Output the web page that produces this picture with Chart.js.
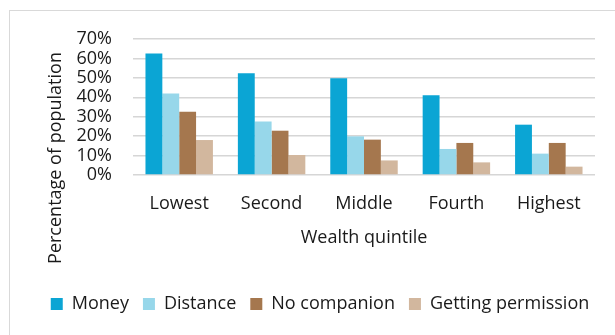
<!DOCTYPE html>
<html>
<head>
<meta charset="utf-8">
<script src="https://cdn.jsdelivr.net/npm/chart.js@4"></script>
<style>
  html, body { margin: 0; padding: 0; background: #fff; overflow: hidden; }
  #wrap { position: relative; width: 615px; height: 335px; }
  #frame { position: absolute; left: 9px; top: 10px; width: 700px; height: 400px; border: 1px solid #d9d9d9; }
  #chart { position: absolute; left: 0; top: 0; }
</style>
</head>
<body>
<div id="wrap">
  <div id="frame"></div>
  <canvas id="chart" width="615" height="335"></canvas>
</div>
<script>
const quintiles = ['Lowest', 'Second', 'Middle', 'Fourth', 'Highest'];
const money = [62.5, 52.4, 49.8, 41.0, 25.9];
const distance = [41.9, 27.6, 19.9, 13.4, 11.0];
const noCompanion = [32.5, 22.8, 18.2, 16.5, 16.5];
const permission = [18.0, 10.3, 7.5, 6.5, 4.3];
const yTitle = 'Percentage of population';

const font = { family: "'Open Sans', sans-serif", size: 18 };
const ink = '#1a1a1a';

// vertical axis title, centred a bit lower than the plot like the spreadsheet does
const yTitlePlugin = {
  id: 'yTitle',
  afterDraw(chart) {
    const ctx = chart.ctx;
    ctx.save();
    ctx.translate(56, 158);
    ctx.rotate(-Math.PI / 2);
    ctx.font = `${font.size}px ${font.family}`;
    ctx.fillStyle = ink;
    ctx.textAlign = 'center';
    ctx.textBaseline = 'middle';
    ctx.fillText(yTitle, 0, 0);
    ctx.restore();
  }
};

new Chart(document.getElementById('chart'), {
  type: 'bar',
  data: {
    labels: quintiles,
    datasets: [
      { label: 'Money', data: money, backgroundColor: '#0ba5d4' },
      { label: 'Distance', data: distance, backgroundColor: '#97d7ea' },
      { label: 'No companion', data: noCompanion, backgroundColor: '#a5774e' },
      { label: 'Getting permission', data: permission, backgroundColor: '#d2b79e' }
    ]
  },
  plugins: [yTitlePlugin],
  options: {
    responsive: false,
    animation: false,
    layout: { padding: { left: 25, right: 0, top: 39, bottom: 12 } },
    datasets: { bar: { barPercentage: 1, categoryPercentage: 0.73 } },
    plugins: {
      tooltip: { enabled: false },
      legend: {
        position: 'bottom',
        labels: { font, color: ink, boxWidth: 12, boxHeight: 12, padding: 14 }
      }
    },
    scales: {
      x: {
        grid: { display: false },
        border: { display: false },
        ticks: { font, color: ink, padding: 10, autoSkip: false, maxRotation: 0 },
        title: { display: true, text: 'Wealth quintile', font, color: ink, padding: { top: 4, bottom: 32 } },
        afterFit: (s) => { s.height = 106; }
      },
      y: {
        min: 0,
        max: 70,
        grid: { color: '#d6d6d6', lineWidth: 1.5, drawTicks: false },
        border: { display: false },
        ticks: { stepSize: 10, autoSkip: false, font, color: ink, padding: 21, callback: (v) => v + '%' },
        afterFit: (s) => { s.width = 108; }
      },
      // empty right-hand axis that only reserves the margin after the plot
      yRight: {
        position: 'right',
        grid: { display: false },
        border: { display: false },
        ticks: { display: false },
        afterFit: (s) => { s.width = 20; }
      }
    }
  }
});
</script>
</body>
</html>
